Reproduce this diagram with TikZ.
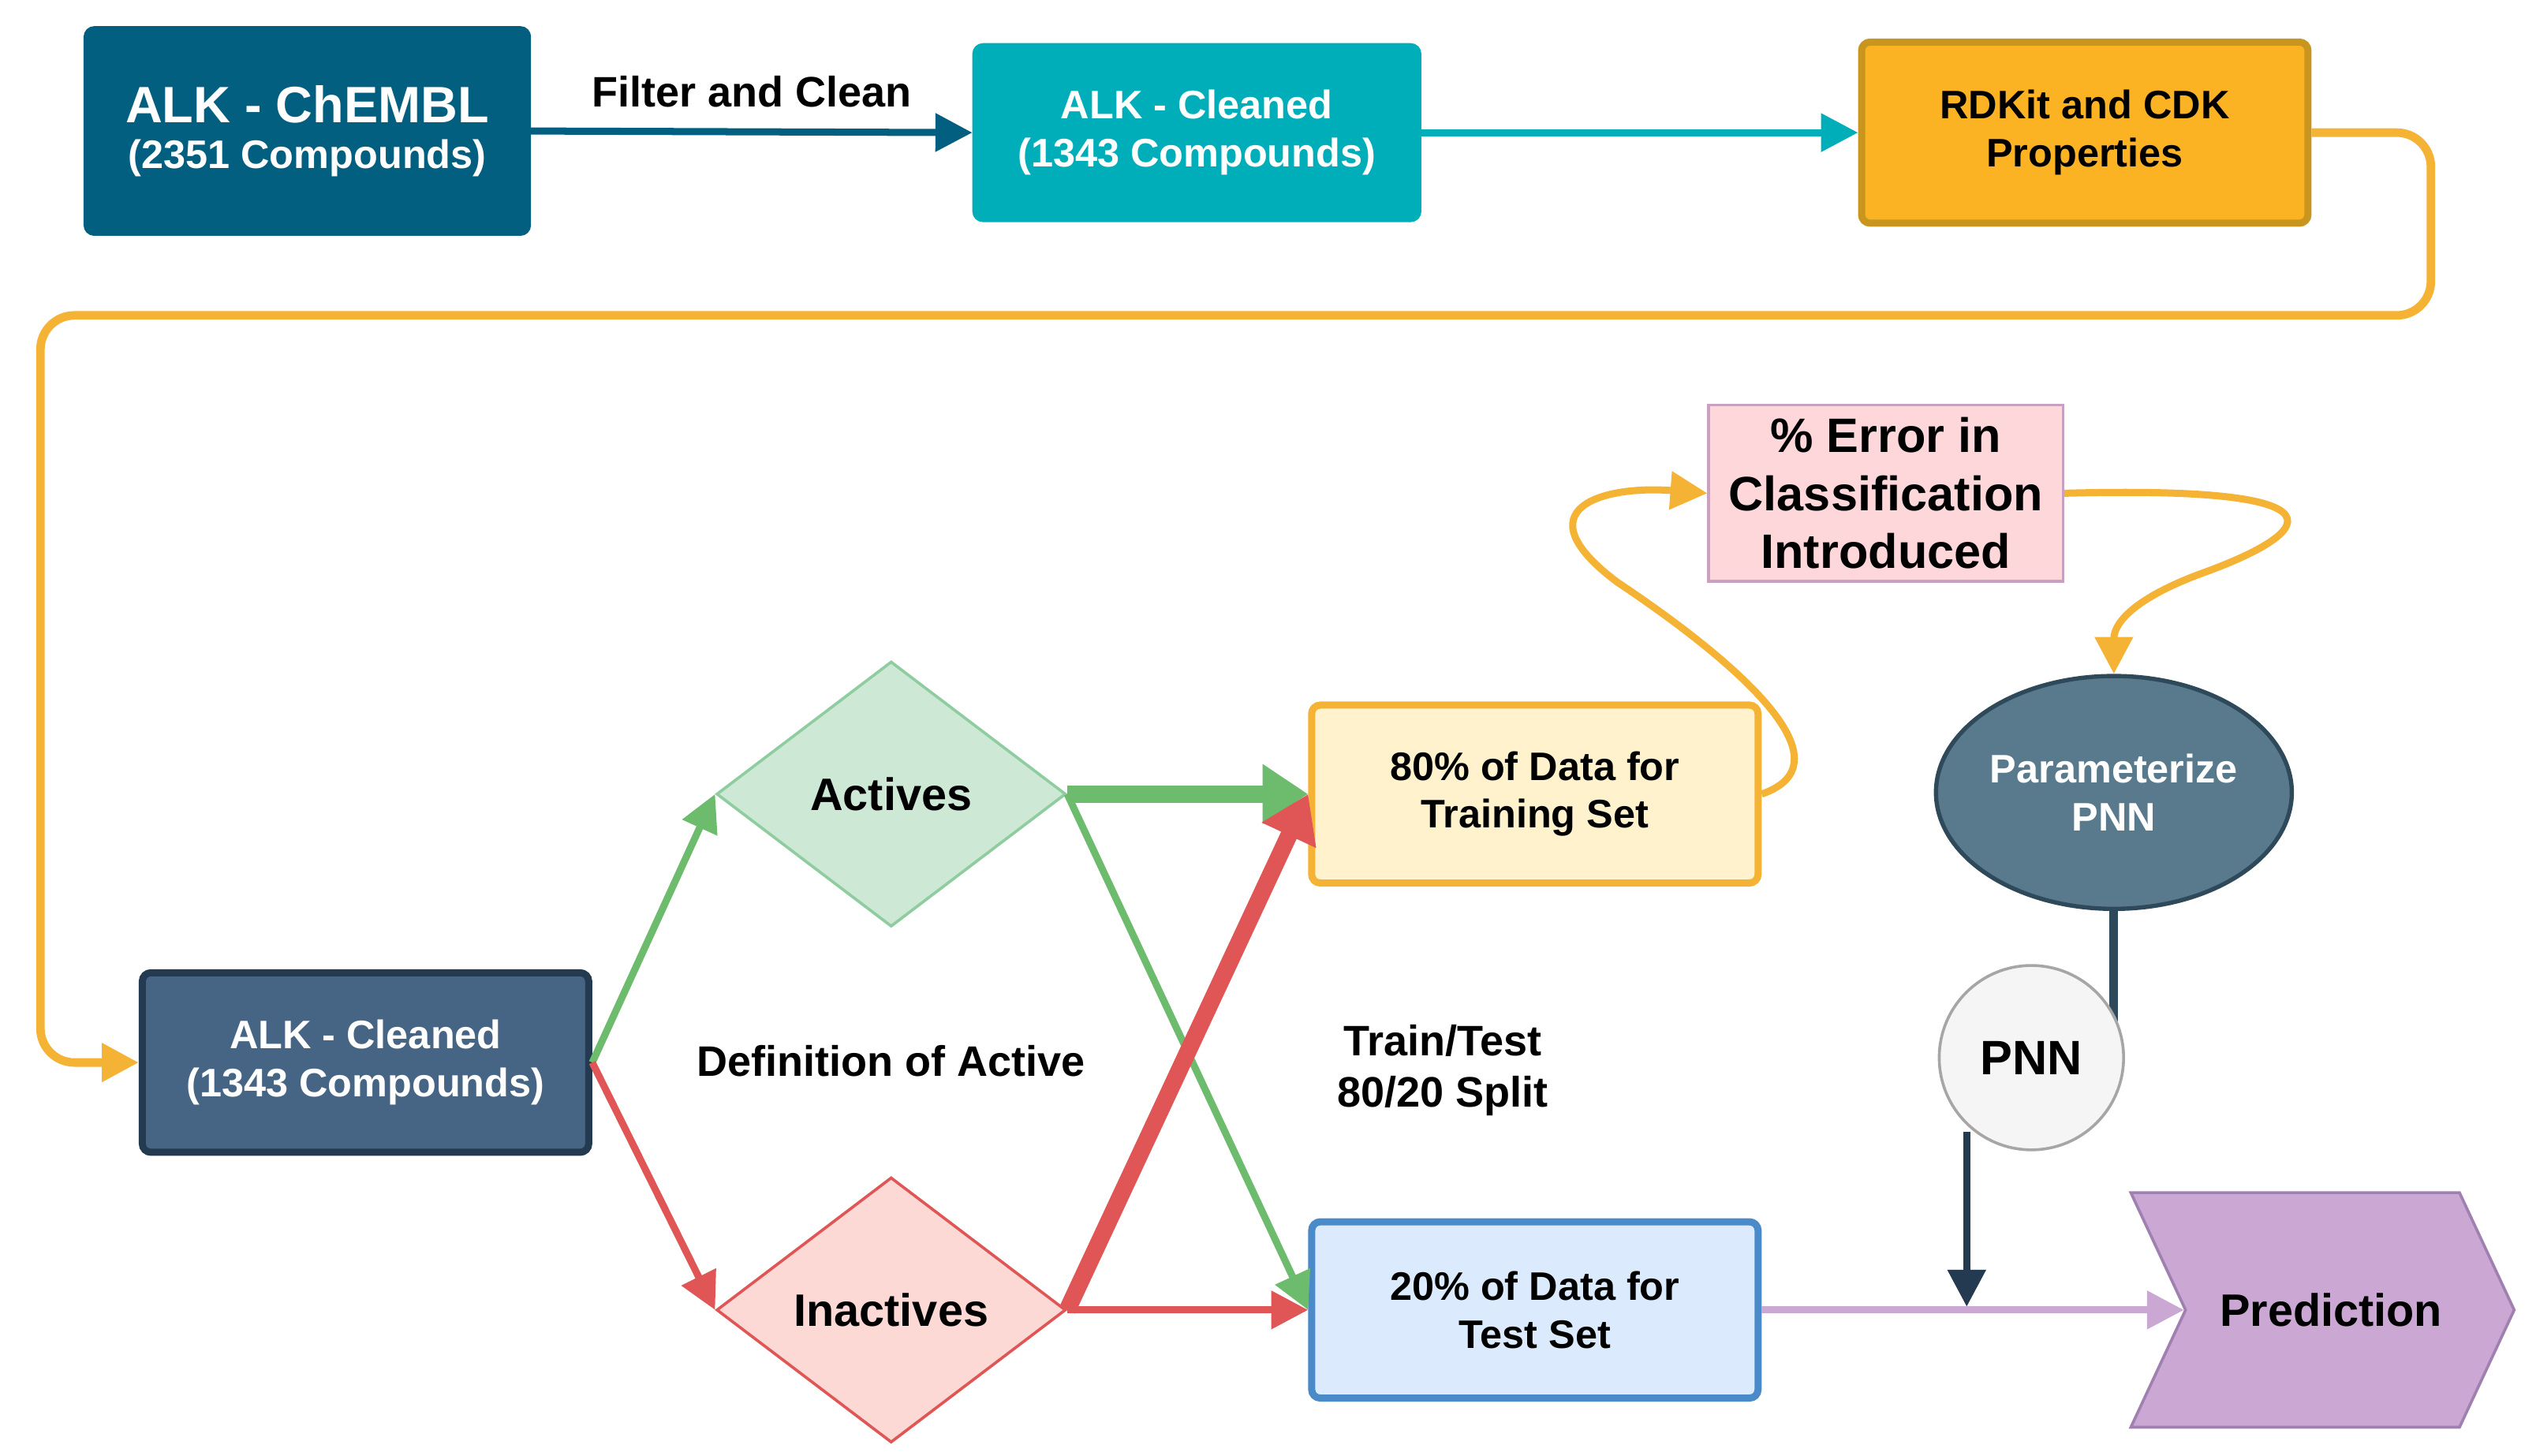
\documentclass[tikz,border=0pt]{standalone}
\usepackage{fontspec}
\setmainfont{Liberation Sans}
\usetikzlibrary{shapes.geometric,shapes.symbols,arrows.meta}
\definecolor{cA}{HTML}{035F7F}
\definecolor{cB}{HTML}{00AEB9}
\definecolor{cC}{HTML}{FBB324}
\definecolor{cCb}{HTML}{C8961E}
\definecolor{cO}{HTML}{F5B335}
\definecolor{cD}{HTML}{466584}
\definecolor{cDb}{HTML}{233A50}
\definecolor{gF}{HTML}{CDE8D5}
\definecolor{gB}{HTML}{8FCC9F}
\definecolor{gL}{HTML}{6DBB6D}
\definecolor{rF}{HTML}{FDD9D6}
\definecolor{rL}{HTML}{E05555}
\definecolor{yF}{HTML}{FFF2CC}
\definecolor{bF}{HTML}{DBEAFC}
\definecolor{bB}{HTML}{4A8AC8}
\definecolor{eF}{HTML}{FDD7D9}
\definecolor{eB}{HTML}{C8A0C0}
\definecolor{pF}{HTML}{587A8C}
\definecolor{pB}{HTML}{2E4A5A}
\definecolor{prF}{HTML}{CAA8D3}
\definecolor{prB}{HTML}{A080B0}
\newcommand{\fs}[1]{\fontsize{#1pt}{\fpeval{1.2*#1}pt}\selectfont}
\tikzset{x=0.2mm,y=-0.2mm,
 box/.style={draw,rounded corners=3pt,line width=1.5pt,align=center,font=\bfseries,inner sep=0pt},
 arr/.style={-{Triangle[length=13pt,width=13pt]},line width=2.5pt},
 fat/.style={line width=6pt,-{Triangle[length=16pt,width=20pt]}},
 lab/.style={font=\bfseries\fs{15},align=center}}
\begin{document}
\begin{tikzpicture}
\useasboundingbox (0,0) rectangle (1568,900);
\node[box,fill=cA,draw=cA,text=white,minimum width=54.8mm,minimum height=25.4mm] (b1) at (190,81) {{\fs{18}ALK - ChEMBL}\\[4pt]{\fs{14}(2351 Compounds)}};
\node[box,fill=cB,draw=cB,text=white,minimum width=55mm,minimum height=21.6mm,font=\bfseries\fs{14}] (b2) at (740,82) {ALK - Cleaned\\(1343 Compounds)};
\node[box,fill=cC,draw=cCb,line width=2.5pt,minimum width=55.2mm,minimum height=22.4mm,font=\bfseries\fs{14}] (b3) at (1289,82) {RDKit and CDK\\Properties};
\draw[arr,draw=cA] (b1.east) -- node[lab,above,text=black,yshift=4pt]{Filter and Clean} (b2.west);
\draw[arr,draw=cB] (b2.east) -- (b3.west);
\node[box,fill=cD,draw=cDb,line width=2.5pt,text=white,minimum width=55.2mm,minimum height=22.2mm,font=\bfseries\fs{14}] (b4) at (226,657) {ALK - Cleaned\\(1343 Compounds)};
\draw[arr,draw=cO,line width=3pt,rounded corners=12pt] (b3.east) -- (1503,82) -- (1503,195) -- (25,195) -- (25,657) -- (b4.west);
\node[diamond,draw=gB,fill=gF,line width=1pt,minimum width=43.2mm,minimum height=32.8mm,inner sep=0pt,font=\bfseries\fs{16}] (act) at (551,491) {Actives};
\node[diamond,draw=rL,fill=rF,line width=1pt,minimum width=43.2mm,minimum height=32.8mm,inner sep=0pt,font=\bfseries\fs{16}] (ina) at (551,810) {Inactives};
\node[lab] (def) at (551,656) {Definition of Active};
\node[box,fill=yF,draw=cO,line width=2.5pt,minimum width=55.2mm,minimum height=22mm,font=\bfseries\fs{14}] (tr) at (949,491) {80\% of Data for\\Training Set};
\node[box,fill=bF,draw=bB,line width=2.5pt,minimum width=55.2mm,minimum height=21.8mm,font=\bfseries\fs{14}] (te) at (949,810) {20\% of Data for\\Test Set};
\node[lab] (tt) at (892,662) {Train/Test\\80/20 Split};
\draw[arr,draw=gL] (b4.east) -- (act.west);
\draw[arr,draw=rL] (b4.east) -- (ina.west);
\draw[fat,draw=gL] (act.east) -- (tr.west);
\draw[arr,draw=gL] (act.east) -- (te.west);
\draw[fat,draw=rL] (ina.east) -- (tr.west);
\draw[arr,draw=rL] (ina.east) -- (te.west);
\node[draw=eB,fill=eF,line width=1pt,minimum width=43.8mm,minimum height=21.8mm,align=center,font=\bfseries\fs{17},inner sep=0pt] (err) at (1166,305) {\% Error in\\Classification\\Introduced};
\node[ellipse,draw=pB,fill=pF,line width=1.5pt,minimum width=44mm,minimum height=28.8mm,text=white,align=center,font=\bfseries\fs{14},inner sep=0pt] (par) at (1307,490) {Parameterize\\PNN};
\draw[arr,draw=cO] (tr.east) .. controls (1150,470) and (1060,400) .. (1000,360) .. controls (940,315) and (990,300) .. (err.west);
\draw[arr,draw=cO] (err.east) .. controls (1460,300) and (1430,330) .. (1360,355) .. controls (1320,370) and (1307,385) .. (par.north);
\coordinate (pb) at (1307,640);
\draw[pB,line width=3pt] (par.south) -- (pb);
\node[circle,draw=gray!70,fill=gray!8,line width=1pt,minimum size=22.8mm,font=\bfseries\fs{17},inner sep=0pt] (pnn) at (1256,654) {PNN};
\node[draw=prB,fill=prF,line width=1pt,signal,signal to=east,signal from=west,minimum width=47.4mm,minimum height=29mm,signal pointer angle=130,font=\bfseries\fs{16},inner sep=0pt] (pred) at (1436,810) {\hspace{6pt}Prediction};
\coordinate (pn1) at (1216,700);
\coordinate (pn2) at (1216,808);
\draw[arr,draw=cDb] (pn1) -- (pn2);
\draw[arr,draw=prF] (te.east) -- (pred.west);
\end{tikzpicture}
\end{document}
